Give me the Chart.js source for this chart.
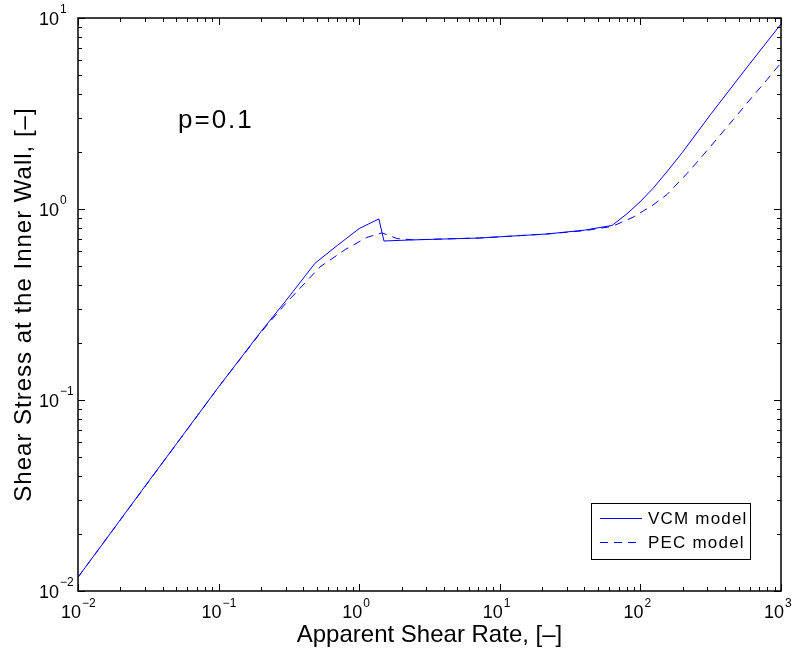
<!DOCTYPE html>
<html>
<head>
<meta charset="utf-8">
<script src="https://cdn.jsdelivr.net/npm/chart.js@4"></script>
<style>
  html, body { margin: 0; padding: 0; background: #fff; }
  #wrap { width: 797px; height: 651px; }
</style>
</head>
<body>
<div id="wrap"><canvas id="myChart"></canvas></div>
<script>
// values
const vcmX = [0.01, 0.03, 0.1, 0.2, 0.3, 0.485, 0.7, 1.0, 1.38, 1.5, 2.4, 7.2, 21.7, 40, 62.8, 79, 99.5, 125, 158, 199, 315, 560, 1000];
const vcmY = [0.0118, 0.0354, 0.117, 0.228, 0.33, 0.52, 0.645, 0.79, 0.887, 0.68, 0.689, 0.705, 0.74, 0.775, 0.82, 0.935, 1.09, 1.30, 1.60, 1.98, 3.12, 5.4, 9.3];

const pecX = [0.01, 0.1, 0.2, 0.3, 0.526, 0.8, 1.135, 1.45, 1.86, 2.4, 7.2, 21.7, 40, 62.8, 88.5, 123, 154.5, 214, 265, 368, 456, 632, 794, 1000];
const pecY = [0.0118, 0.117, 0.226, 0.32, 0.497, 0.615, 0.71, 0.75, 0.70, 0.69, 0.705, 0.74, 0.77, 0.81, 0.905, 1.05, 1.19, 1.53, 1.83, 2.43, 2.93, 3.90, 4.75, 5.82];

const xExps = [-2, -1, 0, 1, 2, 3];
const yExps = [-2, -1, 0, 1];

const seriesNames = ["VCM model", "PEC model"];
const annotation = "p=0.1";
const xTitle = "Apparent Shear Rate, [\u2013]";
const yTitle = "Shear Stress at the Inner Wall, [\u2013]";

const FONT = "'Liberation Sans', Arial, Helvetica, sans-serif";

function pts(xs, ys) {
  return xs.map((v, i) => ({x: v, y: ys[i]}));
}

function sup(e) {
  return String(e).replace('-', '\u2212');
}

// frame, inward ticks, labels, titles, legend
const decor = {
  id: 'decor',
  afterDraw(chart) {
    const {ctx, chartArea: a, scales: {x, y}} = chart;
    ctx.save();

    // ticks on all four sides
    ctx.strokeStyle = '#000';
    ctx.lineWidth = 1;
    ctx.beginPath();
    for (let e = xExps[0]; e <= xExps[xExps.length - 1]; e++) {
      for (let m = 1; m < 10; m++) {
        const v = m * Math.pow(10, e);
        if (v > x.max * 1.0001) break;
        const px = Math.round(x.getPixelForValue(v)) + 0.5;
        const len = m === 1 ? 7 : 4;
        ctx.moveTo(px, a.bottom); ctx.lineTo(px, a.bottom - len);
        ctx.moveTo(px, a.top); ctx.lineTo(px, a.top + len);
      }
    }
    for (let e = yExps[0]; e <= yExps[yExps.length - 1]; e++) {
      for (let m = 1; m < 10; m++) {
        const v = m * Math.pow(10, e);
        if (v > y.max * 1.0001) break;
        const py = Math.round(y.getPixelForValue(v)) + 0.5;
        const len = m === 1 ? 7 : 4;
        ctx.moveTo(a.left, py); ctx.lineTo(a.left + len, py);
        ctx.moveTo(a.right, py); ctx.lineTo(a.right - len, py);
      }
    }
    ctx.stroke();

    ctx.lineWidth = 1.5;
    ctx.strokeRect(a.left, a.top, a.right - a.left, a.bottom - a.top);

    // tick labels 10^n
    ctx.fillStyle = '#000';
    ctx.textBaseline = 'alphabetic';
    ctx.textAlign = 'left';
    xExps.forEach(e => {
      const px = x.getPixelForValue(Math.pow(10, e));
      ctx.font = '18px ' + FONT;
      const w = ctx.measureText('10').width;
      const sx = px - 17;
      ctx.fillText('10', sx, a.bottom + 27);
      ctx.font = '12px ' + FONT;
      ctx.fillText(sup(e), sx + w + 1, a.bottom + 16);
    });
    yExps.forEach(e => {
      const py = y.getPixelForValue(Math.pow(10, e));
      ctx.font = '18px ' + FONT;
      const w = ctx.measureText('10').width;
      const sx = a.left - 39;
      ctx.fillText('10', sx, py + 7);
      ctx.font = '12px ' + FONT;
      ctx.fillText(sup(e), sx + w + 1, py - 5);
    });

    // axis titles
    ctx.font = '24px ' + FONT;
    ctx.textAlign = 'center';
    ctx.fillText(xTitle, (a.left + a.right) / 2, a.bottom + 51);
    ctx.save();
    ctx.translate(31, (a.top + a.bottom) / 2);
    ctx.rotate(-Math.PI / 2);
    ctx.letterSpacing = '1px';
    ctx.fillText(yTitle, 0, 0);
    ctx.restore();

    // annotation
    ctx.font = '26px ' + FONT;
    ctx.textAlign = 'left';
    ctx.letterSpacing = '2px';
    ctx.fillText(annotation, 178, 128);
    ctx.letterSpacing = '0px';

    // legend
    const bx = a.right - 190, by = a.bottom - 88, bw = 159, bh = 56;
    ctx.fillStyle = '#fff';
    ctx.fillRect(bx, by, bw, bh);
    ctx.lineWidth = 1;
    ctx.strokeStyle = '#000';
    ctx.strokeRect(bx + 0.5, by + 0.5, bw, bh);
    const ds = chart.data.datasets;
    ds.forEach((d, i) => {
      const ly = by + 15.5 + i * 24;
      ctx.strokeStyle = d.borderColor;
      ctx.lineWidth = 1;
      ctx.setLineDash(d.borderDash || []);
      ctx.beginPath();
      ctx.moveTo(bx + 9, ly); ctx.lineTo(bx + 51, ly);
      ctx.stroke();
      ctx.setLineDash([]);
      ctx.fillStyle = '#000';
      ctx.font = '17px ' + FONT;
      ctx.letterSpacing = '1.2px';
      ctx.textBaseline = 'middle';
      ctx.fillText(d.label, bx + 57, ly + 1);
      ctx.letterSpacing = '0px';
    });

    ctx.restore();
  }
};

new Chart(document.getElementById('myChart').getContext('2d'), {
  type: 'scatter',
  data: {
    datasets: [{
      label: seriesNames[0],
      data: pts(vcmX, vcmY),
      showLine: true,
      borderColor: '#0000ff',
      borderWidth: 1,
      pointRadius: 0,
      tension: 0
    }, {
      label: seriesNames[1],
      data: pts(pecX, pecY),
      showLine: true,
      borderColor: '#0000ff',
      borderWidth: 1,
      borderDash: [8, 6],
      pointRadius: 0,
      tension: 0
    }]
  },
  options: {
    responsive: true,
    maintainAspectRatio: false,
    animation: false,
    layout: { padding: { top: 18, right: 16, left: 0, bottom: 0 } },
    plugins: {
      legend: { display: false },
      tooltip: { enabled: false }
    },
    scales: {
      x: {
        type: 'logarithmic',
        min: 0.01,
        max: 1000,
        grid: { display: false },
        border: { display: false },
        ticks: { display: false },
        afterFit(scale) { scale.height = 60; }
      },
      y: {
        type: 'logarithmic',
        min: 0.01,
        max: 10,
        grid: { display: false },
        border: { display: false },
        ticks: { display: false },
        afterFit(scale) { scale.width = 78; }
      }
    }
  },
  plugins: [decor]
});
</script>
</body>
</html>
